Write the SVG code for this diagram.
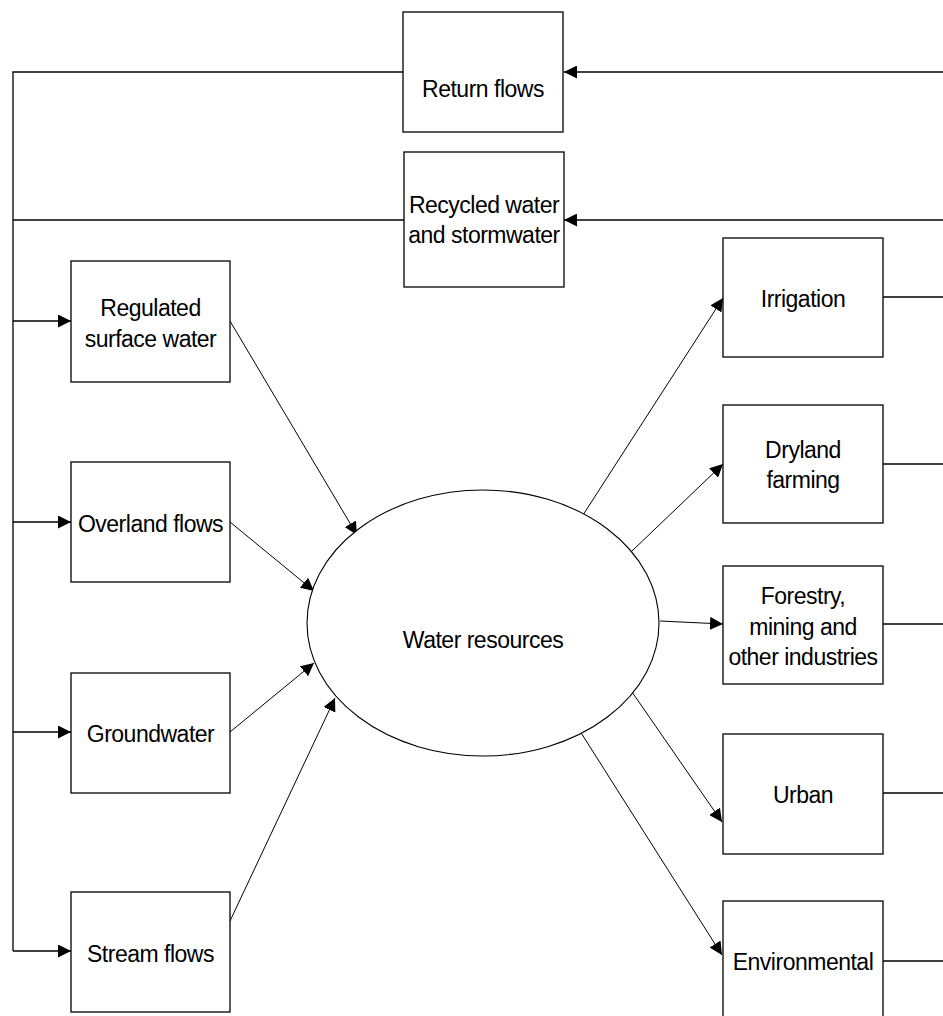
<svg xmlns="http://www.w3.org/2000/svg" width="943" height="1016" viewBox="0 0 943 1016">
<defs>
<marker id="arr" markerUnits="userSpaceOnUse" markerWidth="13" markerHeight="13" viewBox="0 0 13 13" refX="13" refY="6.5" orient="auto">
<path d="M0,0 L13,6.5 L0,13 z" fill="#000"/>
</marker>
<style>
.box{fill:#fff;stroke:#000;stroke-width:1.3}
.ell{fill:#fff;stroke:#000;stroke-width:1.1}
.ln{fill:none;stroke:#000;stroke-width:1.3}
.thin{fill:none;stroke:#000;stroke-width:1}
.ar{marker-end:url(#arr)}
text{font-family:"Liberation Sans",Arial,sans-serif;font-size:23px;fill:#000;text-anchor:middle;letter-spacing:-0.5px}
</style>
</defs>
<rect width="943" height="1016" fill="#fff"/>
<g id="connectors">
<polyline class="ln" points="403,72 13,72 13,951"/>
<line class="ln" x1="13" y1="220" x2="404" y2="220"/>
<line class="ln ar" x1="943" y1="72" x2="564" y2="72"/>
<line class="ln ar" x1="943" y1="220" x2="564" y2="220"/>
<line class="ln ar" x1="13" y1="321" x2="71" y2="321"/>
<line class="ln ar" x1="13" y1="522" x2="71" y2="522"/>
<line class="ln ar" x1="13" y1="732" x2="71" y2="732"/>
<line class="ln ar" x1="13" y1="951" x2="71" y2="951"/>
<line class="ln" x1="883" y1="297" x2="943" y2="297"/>
<line class="ln" x1="883" y1="464" x2="943" y2="464"/>
<line class="ln" x1="883" y1="624" x2="943" y2="624"/>
<line class="ln" x1="883" y1="793" x2="943" y2="793"/>
<line class="ln" x1="883" y1="961" x2="943" y2="961"/>
<line class="thin ar" x1="230" y1="321" x2="357" y2="535"/>
<line class="thin ar" x1="230" y1="522" x2="314" y2="591"/>
<line class="thin ar" x1="230" y1="732" x2="314" y2="663"/>
<line class="thin ar" x1="230" y1="921" x2="335" y2="698"/>
<line class="thin ar" x1="583" y1="515" x2="723" y2="298"/>
<line class="thin ar" x1="632" y1="551" x2="723" y2="464"/>
<line class="thin ar" x1="660" y1="621" x2="723" y2="624"/>
<line class="thin ar" x1="632" y1="692" x2="722" y2="822"/>
<line class="thin ar" x1="578" y1="728" x2="722" y2="955"/>
</g>
<g id="return-flows">
<rect class="box" x="403" y="12" width="160" height="120"/>
<text x="483" y="97">Return flows</text>
</g>
<g id="recycled-water">
<rect class="box" x="404" y="152" width="160" height="135"/>
<text x="484" y="213">Recycled water</text>
<text x="484" y="243">and stormwater</text>
</g>
<g id="regulated-surface-water">
<rect class="box" x="71" y="261" width="159" height="121"/>
<text x="150.5" y="316">Regulated</text>
<text x="150.5" y="347">surface water</text>
</g>
<g id="overland-flows">
<rect class="box" x="71" y="462" width="159" height="120"/>
<text x="150.5" y="532">Overland flows</text>
</g>
<g id="groundwater">
<rect class="box" x="71" y="673" width="159" height="120"/>
<text x="150.5" y="742">Groundwater</text>
</g>
<g id="stream-flows">
<rect class="box" x="71" y="892" width="159" height="120"/>
<text x="150.5" y="962">Stream flows</text>
</g>
<g id="water-resources">
<ellipse class="ell" cx="483" cy="623" rx="176" ry="133"/>
<text x="483" y="648">Water resources</text>
</g>
<g id="irrigation">
<rect class="box" x="723" y="238" width="160" height="119"/>
<text x="803" y="307">Irrigation</text>
</g>
<g id="dryland-farming">
<rect class="box" x="723" y="405" width="160" height="118"/>
<text x="803" y="458">Dryland</text>
<text x="803" y="488">farming</text>
</g>
<g id="forestry">
<rect class="box" x="723" y="566" width="160" height="118"/>
<text x="803" y="604">Forestry,</text>
<text x="803" y="635">mining and</text>
<text x="803" y="665">other industries</text>
</g>
<g id="urban">
<rect class="box" x="723" y="734" width="160" height="120"/>
<text x="803" y="803">Urban</text>
</g>
<g id="environmental">
<rect class="box" x="723" y="901" width="160" height="120"/>
<text x="803" y="970">Environmental</text>
</g>
</svg>
